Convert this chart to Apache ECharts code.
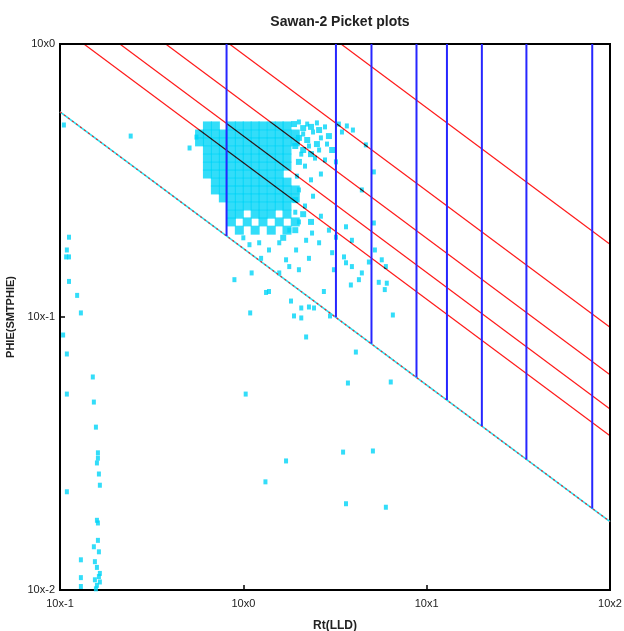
<!DOCTYPE html>
<html>
<head>
<meta charset="utf-8">
<script src="https://cdn.jsdelivr.net/npm/echarts@6/dist/echarts.min.js"></script>
<style>
  html, body { margin: 0; padding: 0; background: #fff; }
  #chart { width: 624px; height: 631px; }
</style>
</head>
<body>
<div id="chart"></div>
<script>
// axis ranges (log10)
const rtRange = [0.1, 100];
const phiRange = [0.01, 1];

// dense part of the cloud, one row per PHIE value: [phie, [Rt, ...]]
const cloudRows = [
  [0.501, [0.637, 0.704, 0.861, 0.951, 1.05, 1.16, 1.28, 1.42, 1.57, 1.73]],
  [0.468, [0.577, 0.637, 0.704, 0.778, 0.861, 0.951, 1.05, 1.16, 1.28, 1.42, 1.57, 1.73, 1.92]],
  [0.438, [0.577, 0.637, 0.704, 0.778, 0.861, 0.951, 1.05, 1.16, 1.28, 1.42, 1.57, 1.73, 1.92]],
  [0.409, [0.637, 0.704, 0.778, 0.861, 0.951, 1.05, 1.16, 1.28, 1.42, 1.57, 1.73]],
  [0.382, [0.637, 0.704, 0.778, 0.861, 0.951, 1.05, 1.16, 1.28, 1.42, 1.57, 1.73]],
  [0.357, [0.637, 0.704, 0.778, 0.861, 0.951, 1.05, 1.16, 1.28, 1.42, 1.57, 1.73]],
  [0.334, [0.637, 0.704, 0.778, 0.861, 0.951, 1.05, 1.16, 1.28, 1.42, 1.57]],
  [0.312, [0.704, 0.778, 0.861, 0.951, 1.05, 1.16, 1.28, 1.42, 1.57, 1.73]],
  [0.292, [0.704, 0.778, 0.861, 0.951, 1.05, 1.16, 1.28, 1.42, 1.57, 1.73, 1.92]],
  [0.273, [0.778, 0.861, 0.951, 1.05, 1.16, 1.28, 1.42, 1.57, 1.73, 1.92]],
  [0.255, [0.861, 0.951, 1.05, 1.16, 1.28, 1.42, 1.57, 1.73]],
  [0.238, [0.861, 0.951, 1.16, 1.28, 1.42, 1.73]],
  [0.223, [0.861, 1.05, 1.28, 1.57, 1.92]],
  [0.208, [0.951, 1.16, 1.42, 1.73]]
];

// scattered samples [Rt, PHIE]
const scatterPts = [
  [2.01, 0.518], [2.23, 0.509], [2.52, 0.514], [2.79, 0.497], [2.12, 0.468],
  [2.40, 0.476], [2.65, 0.453], [2.28, 0.423], [2.59, 0.409], [2.86, 0.430],
  [2.07, 0.395], [2.46, 0.382], [2.79, 0.376], [2.17, 0.357], [1.96, 0.328],
  [2.34, 0.318], [2.65, 0.334], [2.01, 0.292], [2.40, 0.277], [2.17, 0.255],
  [2.65, 0.234], [2.93, 0.208], [3.20, 0.196], [3.63, 0.214], [3.91, 0.191],
  [3.32, 0.509], [3.67, 0.501], [3.96, 0.484], [3.45, 0.476], [4.66, 0.427],
  [3.20, 0.370], [5.15, 0.340], [4.43, 0.292], [5.15, 0.221], [2.20, 0.191],
  [2.37, 0.203], [2.59, 0.187], [1.94, 0.176], [1.71, 0.162], [1.78, 0.153],
  [1.57, 0.145], [3.05, 0.172], [3.54, 0.166], [3.63, 0.158], [3.91, 0.153],
  [4.27, 0.137], [4.43, 0.145], [5.69, 0.162], [5.99, 0.153], [5.48, 0.134],
  [6.06, 0.133], [5.91, 0.126], [2.75, 0.124], [1.33, 0.123], [1.38, 0.124],
  [0.894, 0.137], [1.11, 0.145], [1.22, 0.187], [1.57, 0.187], [1.08, 0.184],
  [1.00, 0.195], [1.38, 0.176], [1.25, 0.164], [2.01, 0.149], [2.28, 0.164],
  [3.12, 0.149], [3.86, 0.131], [4.84, 0.159], [5.22, 0.176], [1.78, 0.208],
  [2.01, 0.223], [1.92, 0.242], [0.509, 0.416], [0.555, 0.456], [0.243, 0.460],
  [0.105, 0.505],
  [1.82, 0.1144], [1.09, 0.1035], [1.89, 0.1009], [2.07, 0.1079], [2.07, 0.0992],
  [2.28, 0.1088], [2.43, 0.1079], [2.97, 0.1009], [2.20, 0.0845], [6.54, 0.1017],
  [4.11, 0.0744], [1.03, 0.0522], [3.72, 0.0573], [6.37, 0.0578], [3.50, 0.0320],
  [5.09, 0.0323], [1.71, 0.0297], [1.32, 0.0249], [3.63, 0.0207], [5.99, 0.0201],
  [0.112, 0.196], [0.109, 0.176], [0.108, 0.166], [0.112, 0.166], [0.112, 0.135],
  [0.124, 0.120], [0.130, 0.1035], [0.104, 0.0859], [0.109, 0.0732], [0.151, 0.0603],
  [0.109, 0.0522], [0.153, 0.0488], [0.157, 0.0395], [0.161, 0.0318], [0.161, 0.0304],
  [0.159, 0.0292], [0.163, 0.0266], [0.165, 0.0242], [0.109, 0.0229], [0.159, 0.0180],
  [0.161, 0.0176], [0.161, 0.0152], [0.153, 0.0144], [0.163, 0.0138], [0.130, 0.0129],
  [0.155, 0.0127], [0.159, 0.0121], [0.165, 0.0115], [0.130, 0.0111], [0.155, 0.0109],
  [0.159, 0.0104], [0.130, 0.0103], [0.163, 0.0112], [0.157, 0.0101], [0.165, 0.0107]
];

// patchy zone just right of the dense cloud [Rt, PHIE]
const patchPts = [
  [1.89, 0.509], [2.12, 0.492], [2.34, 0.497], [2.59, 0.484], [2.01, 0.453],
  [2.23, 0.445], [1.92, 0.423], [2.12, 0.409], [2.52, 0.430], [2.34, 0.395],
  [2.01, 0.370], [2.93, 0.460], [3.05, 0.409], [1.92, 0.268], [2.12, 0.238],
  [2.34, 0.223], [1.92, 0.208], [1.65, 0.195]
];

// Sw = 100% line (Rw line)
const waterLine = [[0.1, 0.564], [100, 0.0178]];
// other saturation lines, [start, end]
const swLines = [
  [[0.135, 1], [100, 0.0367]],
  [[0.212, 1], [100, 0.046]],
  [[0.377, 1], [100, 0.0614]],
  [[0.84, 1], [100, 0.0917]],
  [[3.41, 1], [100, 0.1847]]
];
// vertical Rt cut-offs and where they stop on the water line
const rtCutoffs = [0.81, 3.2, 5.0, 8.8, 12.9, 20, 35, 80];
const rtCutoffBase = [0.198, 0.0997, 0.0798, 0.0601, 0.0497, 0.0399, 0.0301, 0.0199];

const chart = echarts.init(document.getElementById('chart'));

const cloudPts = [];
cloudRows.forEach(function (row) {
  row[1].forEach(function (rt) { cloudPts.push([rt, row[0]]); });
});

const pointColor = '#00d4f7';
const fontName = 'Liberation Sans, Arial, sans-serif';
const labelFont = { color: '#222', fontSize: 11, fontFamily: fontName };
const powerLabel = function (v) { return '10x' + Math.round(Math.log10(v)); };

const series = [
  {
    type: 'scatter', data: cloudPts, symbol: 'rect', symbolSize: 9,
    itemStyle: { color: pointColor }, silent: true
  },
  {
    type: 'scatter', data: patchPts, symbol: 'rect', symbolSize: 6,
    itemStyle: { color: pointColor }, silent: true
  },
  {
    type: 'scatter', data: scatterPts, symbol: 'rect', symbolSize: [4, 5],
    itemStyle: { color: pointColor }, silent: true
  },
  {
    type: 'line', data: waterLine, symbol: 'none',
    lineStyle: { color: '#29e0f0', width: 1.6 }, silent: true
  },
  {
    type: 'line', data: waterLine, symbol: 'none',
    lineStyle: { color: '#ff2020', width: 1.2, type: [2, 3] }, silent: true
  }
];
// red lines multiply over the cyan cloud, which turns them dark there
swLines.forEach(function (ln) {
  series.push({
    type: 'line', data: ln, symbol: 'none', blendMode: 'multiply',
    lineStyle: { color: '#ff1a1a', width: 1.2 }, silent: true
  });
});
rtCutoffs.forEach(function (rt, i) {
  series.push({
    type: 'line', data: [[rt, 1], [rt, rtCutoffBase[i]]], symbol: 'none',
    lineStyle: { color: '#2626ff', width: 2 }, silent: true
  });
});

chart.setOption({
  animation: false,
  backgroundColor: '#fff',
  title: {
    text: 'Sawan-2 Picket plots',
    left: 335, top: 10, textAlign: 'center',
    textStyle: { fontSize: 14, fontWeight: 'bold', color: '#222', fontFamily: fontName }
  },
  grid: {
    left: 60, right: 14, top: 44, bottom: 41, outerBoundsMode: 'none',
    show: true, borderColor: '#000', borderWidth: 2, backgroundColor: '#fff'
  },
  xAxis: {
    type: 'log', logBase: 10, min: rtRange[0], max: rtRange[1], splitNumber: 3,
    name: 'Rt(LLD)', nameLocation: 'middle', nameGap: 30,
    nameTextStyle: { fontSize: 12, fontWeight: 'bold', color: '#222', fontFamily: fontName },
    axisLine: { lineStyle: { color: '#000', width: 2 } },
    axisTick: { inside: true, length: 5, lineStyle: { color: '#000', width: 1.5 } },
    minorTick: { show: false },
    splitLine: { show: false },
    axisLabel: Object.assign({ margin: 8, formatter: powerLabel }, labelFont)
  },
  yAxis: {
    type: 'log', logBase: 10, min: phiRange[0], max: phiRange[1], splitNumber: 2,
    name: 'PHIE(SMTPHIE)', nameLocation: 'middle', nameGap: 36, nameRotate: 90,
    nameTextStyle: { fontSize: 11, fontWeight: 'bold', color: '#222', fontFamily: fontName },
    axisLine: { lineStyle: { color: '#000', width: 2 } },
    axisTick: { inside: true, length: 5, lineStyle: { color: '#000', width: 1.5 } },
    minorTick: { show: false },
    splitLine: { show: false },
    axisLabel: Object.assign({ margin: 5, formatter: powerLabel }, labelFont)
  },
  series: series
});
</script>
</body>
</html>
